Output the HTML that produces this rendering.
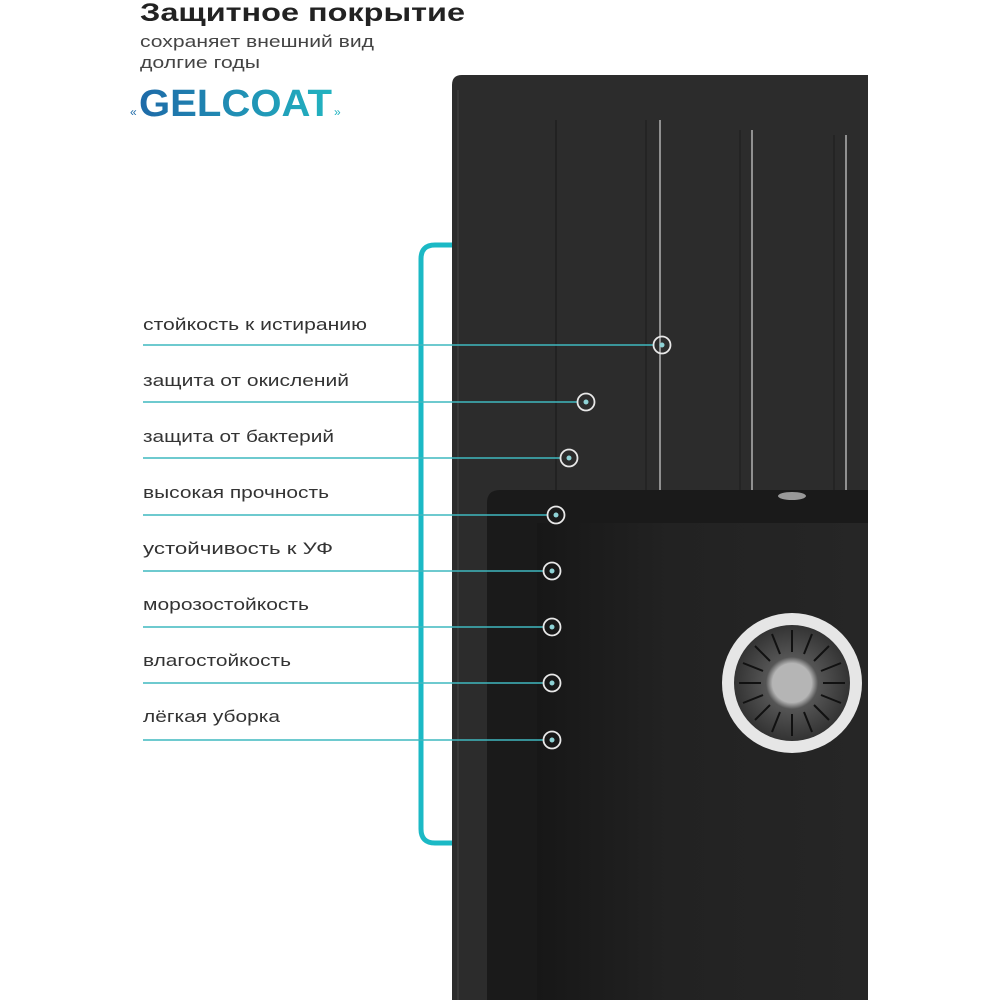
<!DOCTYPE html>
<html><head><meta charset="utf-8"><style>
html,body{margin:0;padding:0;background:#fff;}
svg{display:block}
</style></head><body>
<svg width="1000" height="1000" viewBox="0 0 1000 1000" xmlns="http://www.w3.org/2000/svg" font-family="Liberation Sans, DejaVu Sans, sans-serif">
<defs>
<linearGradient id="g" x1="0" x2="1"><stop offset="0" stop-color="#1e6aa8"/><stop offset="1" stop-color="#22b3c0"/></linearGradient>
<linearGradient id="b" x1="0" x2="1"><stop offset="0" stop-color="#171717"/><stop offset="0.4" stop-color="#222"/><stop offset="1" stop-color="#262626"/></linearGradient>
<radialGradient id="d"><stop offset="0" stop-color="#bbb"/><stop offset="0.35" stop-color="#aaa"/><stop offset="0.45" stop-color="#555"/><stop offset="1" stop-color="#333"/></radialGradient>
</defs>
<!-- board -->
<path d="M462 75 H868 V1000 H452 V85 Q452 75 462 75 Z" fill="#2c2c2c"/>
<line x1="458" y1="90" x2="458" y2="1000" stroke="#444" stroke-width="1"/>
<line x1="556" y1="120" x2="556" y2="490" stroke="#1f1f1f" stroke-width="1.5"/>
<line x1="646" y1="120" x2="646" y2="490" stroke="#222" stroke-width="1.5"/>
<line x1="660" y1="120" x2="660" y2="490" stroke="#aaa" stroke-width="1.6"/>
<line x1="740" y1="130" x2="740" y2="490" stroke="#222" stroke-width="1.5"/>
<line x1="752" y1="130" x2="752" y2="490" stroke="#aaa" stroke-width="1.6"/>
<line x1="834" y1="135" x2="834" y2="490" stroke="#222" stroke-width="1.5"/>
<line x1="846" y1="135" x2="846" y2="490" stroke="#aaa" stroke-width="1.6"/>
<!-- basin -->
<path d="M500 490 H868 V1000 H487 V503 Q487 490 500 490 Z" fill="#1a1a1a"/>
<rect x="537" y="523" width="331" height="477" fill="url(#b)"/>
<ellipse cx="792" cy="496" rx="14" ry="4" fill="#999"/>
<!-- drain -->
<circle cx="792" cy="683" r="70" fill="#e6e6e6"/>
<circle cx="792" cy="683" r="58" fill="url(#d)"/>
<g stroke="#111" stroke-width="2">
<line x1="792" y1="630" x2="792" y2="652"/><line x1="792" y1="714" x2="792" y2="736"/>
<line x1="739" y1="683" x2="761" y2="683"/><line x1="823" y1="683" x2="845" y2="683"/>
<line x1="755" y1="646" x2="770" y2="661"/><line x1="814" y1="705" x2="829" y2="720"/>
<line x1="829" y1="646" x2="814" y2="661"/><line x1="770" y1="705" x2="755" y2="720"/>
<line x1="772" y1="634" x2="780" y2="654"/><line x1="804" y1="712" x2="812" y2="732"/>
<line x1="812" y1="634" x2="804" y2="654"/><line x1="780" y1="712" x2="772" y2="732"/>
<line x1="743" y1="663" x2="763" y2="671"/><line x1="821" y1="695" x2="841" y2="703"/>
<line x1="841" y1="663" x2="821" y2="671"/><line x1="763" y1="695" x2="743" y2="703"/>
</g>
<circle cx="792" cy="683" r="20" fill="#b5b5b5"/>
<!-- bracket -->
<path d="M452 245 H435 Q421 245 421 259 V829 Q421 843 435 843 H452" fill="none" stroke="#1bb9c5" stroke-width="5"/>
<!-- header -->
<text x="140" y="21" font-size="25" font-weight="bold" fill="#222" textLength="325" lengthAdjust="spacingAndGlyphs">Защитное покрытие</text>
<text x="140" y="47" font-size="17" fill="#444" textLength="234" lengthAdjust="spacingAndGlyphs">сохраняет внешний вид</text>
<text x="140" y="68" font-size="17" fill="#444" textLength="120" lengthAdjust="spacingAndGlyphs">долгие годы</text>
<text x="130" y="116" font-size="12" fill="#1e6aa8">«</text>
<text x="139" y="116" font-size="38" font-weight="bold" fill="url(#g)" textLength="193" lengthAdjust="spacingAndGlyphs">GELCOAT</text>
<text x="334" y="116" font-size="12" fill="#22b3c0">»</text>
<!-- labels -->
<g font-size="17" fill="#333" lengthAdjust="spacingAndGlyphs">
<text x="143" y="330" textLength="224" lengthAdjust="spacingAndGlyphs">стойкость к истиранию</text>
<text x="143" y="386" textLength="206" lengthAdjust="spacingAndGlyphs">защита от окислений</text>
<text x="143" y="442" textLength="191" lengthAdjust="spacingAndGlyphs">защита от бактерий</text>
<text x="143" y="498" textLength="186" lengthAdjust="spacingAndGlyphs">высокая прочность</text>
<text x="143" y="554" textLength="190" lengthAdjust="spacingAndGlyphs">устойчивость к УФ</text>
<text x="143" y="610" textLength="166" lengthAdjust="spacingAndGlyphs">морозостойкость</text>
<text x="143" y="666" textLength="148" lengthAdjust="spacingAndGlyphs">влагостойкость</text>
<text x="143" y="722" textLength="137" lengthAdjust="spacingAndGlyphs">лёгкая уборка</text>
</g>
<g stroke="#3fb8bf" stroke-width="1.5">
<line x1="143" y1="345" x2="654" y2="345"/>
<line x1="143" y1="402" x2="578" y2="402"/>
<line x1="143" y1="458" x2="561" y2="458"/>
<line x1="143" y1="515" x2="548" y2="515"/>
<line x1="143" y1="571" x2="544" y2="571"/>
<line x1="143" y1="627" x2="544" y2="627"/>
<line x1="143" y1="683" x2="544" y2="683"/>
<line x1="143" y1="740" x2="544" y2="740"/>
</g>
<g fill="none" stroke="#e8e8e8" stroke-width="1.8">
<circle cx="662" cy="345" r="8.5"/><circle cx="586" cy="402" r="8.5"/><circle cx="569" cy="458" r="8.5"/><circle cx="556" cy="515" r="8.5"/>
<circle cx="552" cy="571" r="8.5"/><circle cx="552" cy="627" r="8.5"/><circle cx="552" cy="683" r="8.5"/><circle cx="552" cy="740" r="8.5"/>
</g>
<g fill="#8fd3d6">
<circle cx="662" cy="345" r="2.5"/><circle cx="586" cy="402" r="2.5"/><circle cx="569" cy="458" r="2.5"/><circle cx="556" cy="515" r="2.5"/>
<circle cx="552" cy="571" r="2.5"/><circle cx="552" cy="627" r="2.5"/><circle cx="552" cy="683" r="2.5"/><circle cx="552" cy="740" r="2.5"/>
</g>
</svg>
</body></html>
